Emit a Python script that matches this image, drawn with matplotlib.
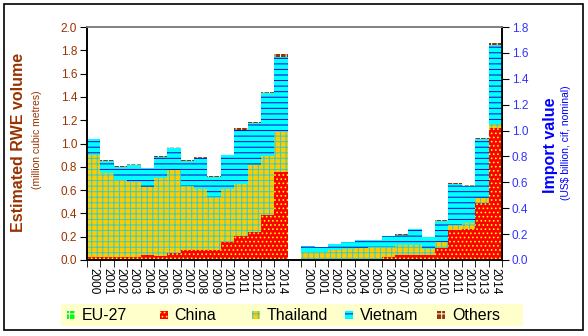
import matplotlib
matplotlib.use("Agg")
import matplotlib.pyplot as plt
import numpy as np
from matplotlib.patches import Rectangle

plt.rcParams["font.family"] = ["Liberation Sans", "DejaVu Sans"]
plt.rcParams["hatch.linewidth"] = 0.7

years = [str(y) for y in range(2000, 2015)]
series = ["EU-27", "China", "Thailand", "Vietnam", "Others"]

# RWE volume (million m3), left axis
vol_eu = [0.004, 0.004, 0.003, 0.003, 0.003, 0.003, 0.002, 0.002, 0.002, 0.002, 0.002, 0.002, 0.002, 0.002, 0.002]
vol_china = [0.026, 0.026, 0.026, 0.026, 0.043, 0.034, 0.057, 0.086, 0.086, 0.080, 0.155, 0.206, 0.240, 0.386, 0.750]
vol_thailand = [0.870, 0.714, 0.661, 0.641, 0.584, 0.670, 0.714, 0.547, 0.519, 0.456, 0.450, 0.444, 0.573, 0.505, 0.348]
vol_vietnam = [0.135, 0.106, 0.110, 0.145, 0.157, 0.178, 0.187, 0.215, 0.268, 0.177, 0.293, 0.468, 0.362, 0.537, 0.645]
vol_others = [0.005, 0.008, 0.008, 0.008, 0.000, 0.008, 0.008, 0.006, 0.006, 0.006, 0.000, 0.010, 0.010, 0.012, 0.020]

# Import value (US$ billion), right axis
val_eu = [0.001] * 15
val_china = [0.004, 0.004, 0.004, 0.004, 0.004, 0.006, 0.026, 0.034, 0.039, 0.041, 0.095, 0.227, 0.237, 0.438, 1.022]
val_thailand = [0.059, 0.059, 0.072, 0.077, 0.085, 0.091, 0.076, 0.081, 0.076, 0.040, 0.046, 0.042, 0.051, 0.038, 0.027]
val_vietnam = [0.041, 0.039, 0.043, 0.055, 0.063, 0.057, 0.082, 0.079, 0.122, 0.096, 0.163, 0.320, 0.283, 0.458, 0.614]
val_others = [0.003, 0.000, 0.004, 0.002, 0.003, 0.000, 0.002, 0.004, 0.002, 0.003, 0.004, 0.004, 0.004, 0.006, 0.010]

styles = {
    "EU-27": dict(color="#00FF00", edgecolor="white", hatch="+++"),
    "China": dict(color="#FF0000", edgecolor="#FFFF00", hatch="...."),
    "Thailand": dict(color="#FFCC00", edgecolor="#33CCCC", hatch="+++"),
    "Vietnam": dict(color="#00FFFF", edgecolor="#0000CC", hatch="---"),
    "Others": dict(color="#993300", edgecolor="white", hatch="+++"),
}

BROWN = "#993300"
BLUE = "#0000FF"

fig = plt.figure(figsize=(5.88, 3.36), dpi=100)
ax1 = fig.add_axes([87 / 588, 1 - 260 / 336, 415 / 588, 233 / 336])
ax2 = ax1.twinx()


def stack(ax, x, parts):
    bottom = np.zeros(len(x))
    for name, vals in zip(series, parts):
        st = styles[name]
        ax.bar(x, vals, width=1.0, bottom=bottom, color=st["color"],
               edgecolor=st["edgecolor"], hatch=st["hatch"], linewidth=0)
        bottom += np.array(vals)


x_left = np.arange(15)
x_right = np.arange(15) + 16
stack(ax1, x_left, [vol_eu, vol_china, vol_thailand, vol_vietnam, vol_others])
stack(ax2, x_right, [val_eu, val_china, val_thailand, val_vietnam, val_others])

ax1.set_xlim(-0.5, 30.5)
ax1.set_ylim(0, 2.0)
ax2.set_ylim(0, 1.8)
ax1.set_yticks(np.arange(0, 2.01, 0.2))
ax2.set_yticks(np.arange(0, 1.81, 0.2))
ax1.set_yticklabels([f"{v:.1f}" for v in np.arange(0, 2.01, 0.2)])
ax2.set_yticklabels([f"{v:.1f}" for v in np.arange(0, 1.81, 0.2)])

ax1.set_xticks(np.concatenate([x_left, x_right]))
ax1.set_xticklabels(years + years, rotation=-90, fontsize=8.5)
ax1.set_xticks(np.arange(-0.5, 31, 1.0), minor=True)
ax1.tick_params(axis="x", which="major", length=0, pad=6)
ax1.tick_params(axis="x", which="minor", length=5, direction="out")

ax1.tick_params(axis="y", length=5, direction="out", labelsize=8.5, labelcolor=BROWN, pad=2)
ax2.tick_params(axis="y", length=5, direction="out", labelsize=8.5, labelcolor="#3333FF", pad=2)

for ax in (ax1, ax2):
    ax.spines["top"].set_color("#808080")
    ax.spines["top"].set_linewidth(1.2)
    for s in ("left", "right", "bottom"):
        ax.spines[s].set_linewidth(1.2)

fig.text(19 / 588, 1 - 142 / 336, "Estimated RWE volume", rotation=90, ha="center", va="center",
         fontsize=11.5, fontweight="bold", color=BROWN)
fig.text(37 / 588, 1 - 140 / 336, "(million cubic metres)", rotation=90, ha="center", va="center",
         fontsize=7.5, color=BROWN)
fig.text(550 / 588, 1 - 145 / 336, "Import value", rotation=90, ha="center", va="center",
         fontsize=11.5, fontweight="bold", color=BLUE)
fig.text(566 / 588, 1 - 143 / 336, "(US$ billion, cif, nominal)", rotation=90, ha="center", va="center",
         fontsize=7.5, color=BLUE)

# legend strip
fig.add_artist(Rectangle((61 / 588, 1 - 326 / 336), 462 / 588, 22 / 336, transform=fig.transFigure,
                         facecolor="#FFFFCC", edgecolor="none"))
for i, name in enumerate(series):
    x0 = (67 + i * 92.5) / 588
    st = styles[name]
    fig.add_artist(Rectangle((x0, 1 - 319 / 336), 8 / 588, 8 / 336, transform=fig.transFigure,
                             facecolor=st["color"], edgecolor=st["edgecolor"], hatch=st["hatch"], linewidth=0))
    fig.text(x0 + 15 / 588, 1 - 315 / 336, name, ha="left", va="center", fontsize=11.5)

# outer frame
fig.add_artist(Rectangle((4 / 588, 1 - 330 / 336), 579 / 588, 326 / 336, transform=fig.transFigure,
                         facecolor="none", edgecolor="black", linewidth=1.2))

fig.savefig("out.png", dpi=100)
